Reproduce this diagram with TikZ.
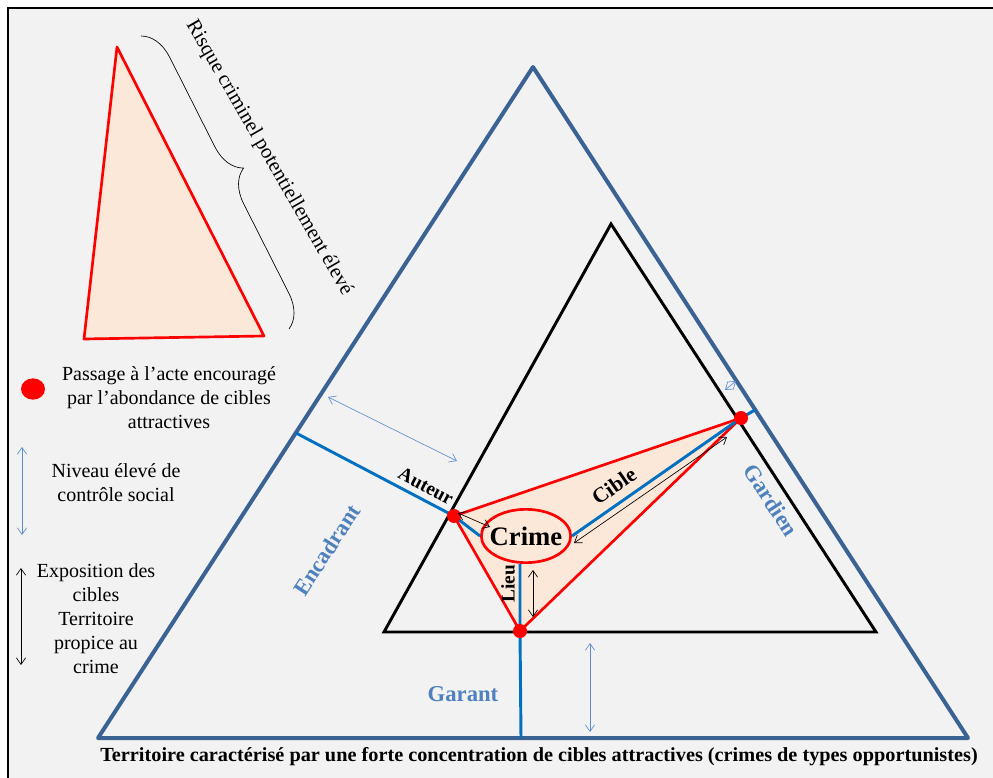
\documentclass[tikz,border=0pt]{standalone}
\usepackage{fontspec}
\setmainfont{Liberation Serif}
\usetikzlibrary{arrows.meta,shapes.geometric,decorations.pathreplacing}
\definecolor{bg}{HTML}{F2F2F2}
\definecolor{outerblue}{HTML}{3A6394}
\definecolor{lineblue}{HTML}{0070C0}
\definecolor{lightblue}{HTML}{5F8ED0}
\definecolor{labelblue}{HTML}{4F81BD}
\definecolor{peach}{HTML}{FCE8D9}
\definecolor{crimered}{HTML}{FF0000}
\begin{document}
\begin{tikzpicture}[x=0.75pt,y=-0.75pt,
  outerline/.style={draw=outerblue,line width=3pt,line join=round},
  innerline/.style={draw=black,line width=2.2pt,line join=miter},
  redtri/.style={draw=crimered,fill=peach,line width=2pt,line join=round},
  bline/.style={draw=lineblue,line width=2.2pt},
  dotnode/.style={circle,fill=crimered,inner sep=0pt,minimum size=10.5pt},
  crimenode/.style={ellipse,draw=crimered,fill=peach,line width=2pt,inner sep=0pt,
    minimum width=67pt,minimum height=40pt},
  crimetext/.style={font=\bfseries\fontsize{20}{22}\selectfont,inner sep=0pt},
  tarrow/.style={{Straight Barb[length=5pt,width=7pt]}-{Straight Barb[length=5pt,width=7pt]},line width=0.5pt},
  legtext/.style={align=center,font=\fontsize{15}{18}\selectfont},
  blab/.style={font=\bfseries\fontsize{14.5}{16}\selectfont},
  bluelab/.style={text=labelblue,font=\bfseries\fontsize{17}{19}\selectfont}
]
\useasboundingbox (0,0) rectangle (993,778);
\fill[white] (0,0) rectangle (993,778);
\fill[bg] (8,8) rectangle (993,778);
\draw[line width=1.5pt] (8,778) -- (8,8) -- (993,8);

% key triangle (top left)
\coordinate (kA) at (117,47);
\coordinate (kB) at (84,339);
\coordinate (kC) at (264,336);
\filldraw[redtri] (kA) -- (kB) -- (kC) -- cycle;
\coordinate (brS) at (141,36);
\coordinate (brE) at (289,329);
\draw[line width=0.5pt,decorate,decoration={brace,amplitude=24pt}] (brS) -- (brE);
\node[rotate=-60,font=\fontsize{15.5}{17}\selectfont] (risk) at (269,158) {Risque criminel potentiellement élevé};

% main triangles
\coordinate (OA) at (533,67);
\coordinate (OL) at (98,738);
\coordinate (OR) at (968,738);
\coordinate (IA) at (611,224);
\coordinate (IL) at (384,632);
\coordinate (IR) at (876,632);
\coordinate (aut) at (454,516);
\coordinate (cib) at (741,418);
\coordinate (lie) at (520,631);
\coordinate (fE) at (296,433);
\coordinate (fG) at (755,410);
\coordinate (fB) at (521,738);

\draw[outerline] (OA) -- (OL) -- (OR) -- cycle;
\draw[innerline] (IA) -- (IL) -- (IR) -- cycle;
\filldraw[redtri] (aut) -- (cib) -- (lie) -- cycle;
\node[crimenode] (crime) at (526,536) {};
\node[crimetext] (crimelabel) at (crime.center) {Crime};

\draw[bline] (fE) -- (aut) -- (crime.west);
\draw[bline] (crime.east) -- (cib) -- (fG);
\draw[bline] (lie |- crime.south) -- (lie) -- (fB);

\node[dotnode] (autdot) at (aut) {};
\node[dotnode] (cibdot) at (cib) {};
\node[dotnode] (liedot) at (lie) {};

% thin arrows
\coordinate (a1s) at (328,397);
\coordinate (a1e) at (457,461);
\coordinate (a2s) at (590,643);
\coordinate (a2e) at (590,732);
\coordinate (a3s) at (725,390);
\coordinate (a3e) at (736,381);
\draw[tarrow,lightblue] (a1s) -- (a1e);
\draw[tarrow,lightblue] (a2s) -- (a2e);
\draw[tarrow,lightblue] (a3s) -- (a3e);

\coordinate (b1s) at (458,513);
\coordinate (b1e) at (490,527);
\coordinate (b2s) at (727,437);
\coordinate (b2e) at (574,543);
\coordinate (b3s) at (533,570);
\coordinate (b3e) at (533,617);
\draw[tarrow,black] (b1s) -- (b1e);
\draw[tarrow,black] (b2s) -- (b2e);
\draw[tarrow,black] (b3s) -- (b3e);

% labels
\node[blab,rotate=-27.7] (lauteur) at (426,486) {Auteur};
\node[blab,font=\bfseries\fontsize{16}{18}\selectfont,rotate=34.8] (lcible) at (614,486) {Cible};
\node[blab,rotate=90] (llieu) at (508,584) {Lieu};
\node[bluelab,rotate=57] (lenc) at (327,550) {Encadrant};
\node[bluelab,rotate=-57] (lgar) at (771,500) {Gardien};
\node[bluelab] (lgarant) at (463,694) {Garant};

% legend
\node[ellipse,fill=crimered,inner sep=0pt,minimum width=18pt,minimum height=16pt] (legdot) at (33,389) {};
\node[legtext] (leg1) at (169,398) {Passage à l’acte encouragé\\par l’abondance de cibles\\attractives};
\coordinate (l1s) at (22,447);
\coordinate (l1e) at (22,535);
\draw[tarrow,lightblue] (l1s) -- (l1e);
\node[legtext] (leg2) at (116,483) {Niveau élevé de\\contrôle social};
\coordinate (l2s) at (21,568);
\coordinate (l2e) at (21,665);
\draw[tarrow,black] (l2s) -- (l2e);
\node[legtext] (leg3) at (96,619) {Exposition des\\cibles\\Territoire\\propice au\\crime};

% bottom caption
\node[font=\bfseries\fontsize{15}{17}\selectfont,inner sep=0pt] (caption) at (539,757)
  {\resizebox{658pt}{\height}{Territoire caractérisé par une forte concentration de cibles attractives (crimes de types opportunistes)}};
\end{tikzpicture}
\end{document}
